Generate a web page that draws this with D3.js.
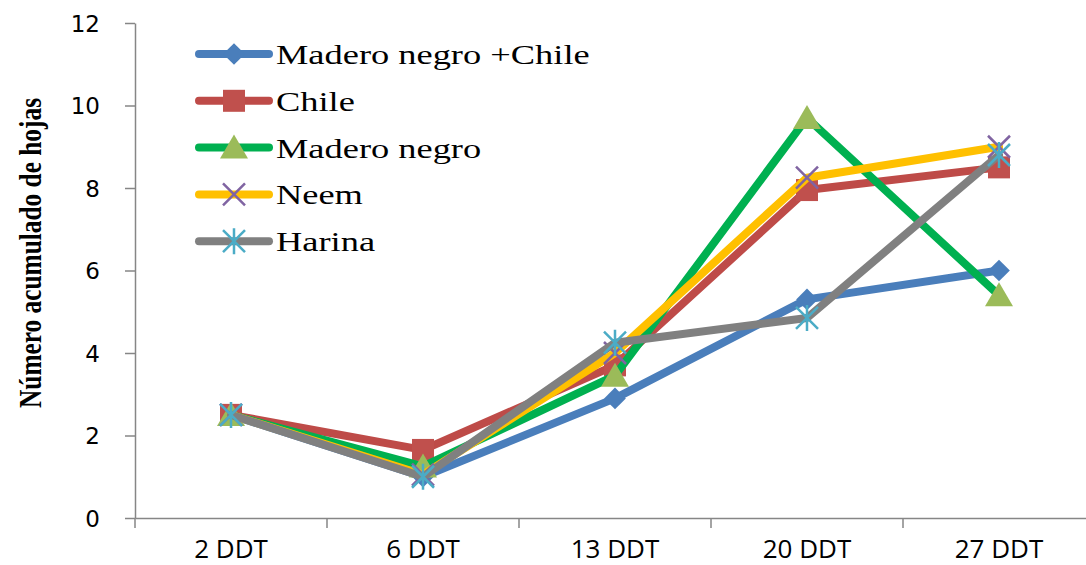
<!DOCTYPE html>
<html>
<head>
<meta charset="utf-8">
<script src="https://cdn.jsdelivr.net/npm/d3@7"></script>
<style>
body{margin:0;background:#fff;}
</style>
</head>
<body>
<div id="content"></div>
<script>
const categories = ["2 DDT","6 DDT","13 DDT","20 DDT","27 DDT"];
const yTicks = [0,2,4,6,8,10,12];
const seriesNames = ["Madero negro +Chile","Chile","Madero negro","Neem","Harina"];
const maderoChile = [2.5, 1.0, 2.9, 5.3, 6.0];
const chile = [2.5, 1.65, 3.7, 7.95, 8.5];
const maderoNegro = [2.5, 1.25, 3.45, 9.7, 5.4];
const neem = [2.5, 1.05, 4.0, 8.25, 9.0];
const harina = [2.5, 1.0, 4.25, 4.85, 8.8];

const w = 1086, h = 565;
const svg = d3.select("#content").append("svg").attr("width",w).attr("height",h);

const x = d3.scaleBand().domain(categories).range([135,1095]);
const y = d3.scaleLinear().domain([0,12]).range([518,23]);

// axes
const yAxis = svg.append("g").attr("transform","translate(135,0)")
  .call(d3.axisLeft(y).tickValues(yTicks).tickSize(10).tickSizeOuter(0));
yAxis.select(".domain").attr("stroke","#868686").attr("stroke-width",1.5);
yAxis.selectAll(".tick line").attr("stroke","#868686").attr("stroke-width",1.5);
yAxis.selectAll(".tick text").attr("x",-35).attr("dy","0.36em").attr("font-family","DejaVu Sans").attr("font-size",23).attr("fill","#000");

const xAxis = svg.append("g").attr("transform","translate(0,518)")
  .call(d3.axisBottom(x).tickSize(0).tickSizeOuter(0));
xAxis.select(".domain").attr("stroke","#868686").attr("stroke-width",1.5);
xAxis.selectAll(".tick text").attr("y",22).attr("font-family","Open Sans").attr("font-size",26).attr("fill","#000");
// tick marks at band boundaries
xAxis.selectAll(".bound").data(categories).enter().append("line")
  .attr("x1",d=>x(d)).attr("x2",d=>x(d)).attr("y1",0).attr("y2",10)
  .attr("stroke","#868686").attr("stroke-width",1.5);

svg.append("text")
  .text("Número acumulado de hojas")
  .attr("transform","translate(41,253) rotate(-90)")
  .attr("text-anchor","middle")
  .attr("font-family","Liberation Serif").attr("font-weight","bold").attr("font-size",32)
  .attr("textLength",310).attr("lengthAdjust","spacingAndGlyphs");

const series = [
  {name:seriesNames[0], values:maderoChile, line:"#4A7EBB", mark:"#4A7EBB", shape:"diamond"},
  {name:seriesNames[1], values:chile, line:"#BE4B48", mark:"#C0504D", shape:"square"},
  {name:seriesNames[2], values:maderoNegro, line:"#00B050", mark:"#9BBB59", shape:"triangle"},
  {name:seriesNames[3], values:neem, line:"#FFC000", mark:"#8064A2", shape:"x"},
  {name:seriesNames[4], values:harina, line:"#808080", mark:"#4BACC6", shape:"star"}
];

function drawMarker(g, shape, color, cx, cy){
  if(shape==="diamond"){
    g.append("path").attr("d",d3.symbol(d3.symbolDiamond2, 300)()).attr("transform",`translate(${cx},${cy})`).attr("fill",color);
  } else if(shape==="square"){
    g.append("rect").attr("x",cx-11).attr("y",cy-11).attr("width",22).attr("height",22).attr("fill",color);
  } else if(shape==="triangle"){
    g.append("path").attr("d",`M${cx},${cy-13}L${cx+14},${cy+11}L${cx-14},${cy+11}Z`).attr("fill",color);
  } else if(shape==="x"){
    g.append("path").attr("d",`M${cx-11},${cy-11}L${cx+11},${cy+11}M${cx-11},${cy+11}L${cx+11},${cy-11}`).attr("stroke",color).attr("stroke-width",2.5);
  } else {
    g.append("path").attr("d",`M${cx-11},${cy-11}L${cx+11},${cy+11}M${cx-11},${cy+11}L${cx+11},${cy-11}M${cx},${cy-13}L${cx},${cy+13}`).attr("stroke",color).attr("stroke-width",2.5);
  }
}

const line = d3.line().x((d,i)=>x(categories[i])+x.bandwidth()/2).y(d=>y(d));
series.forEach(s=>{
  const g = svg.append("g");
  g.append("path").datum(s.values).attr("d",line).attr("fill","none")
    .attr("stroke",s.line).attr("stroke-width",8).attr("stroke-linejoin","round").attr("stroke-linecap","round");
  s.values.forEach((v,i)=>drawMarker(g, s.shape, s.mark, x(categories[i])+x.bandwidth()/2, y(v)));
});

// legend
series.forEach((s,i)=>{
  const ly = 54 + i*46.8;
  const g = svg.append("g");
  g.append("line").attr("x1",199).attr("x2",269).attr("y1",ly).attr("y2",ly)
    .attr("stroke",s.line).attr("stroke-width",8).attr("stroke-linecap","round");
  drawMarker(g, s.shape, s.mark, 234, ly);
  const t = g.append("text").text(s.name).attr("x",276).attr("y",ly+10)
    .attr("font-family","Liberation Serif").attr("font-size",28).attr("fill","#000");
  const len = t.node().getComputedTextLength();
  t.attr("textLength",len*1.3).attr("lengthAdjust","spacingAndGlyphs");
});
</script>
</body>
</html>
